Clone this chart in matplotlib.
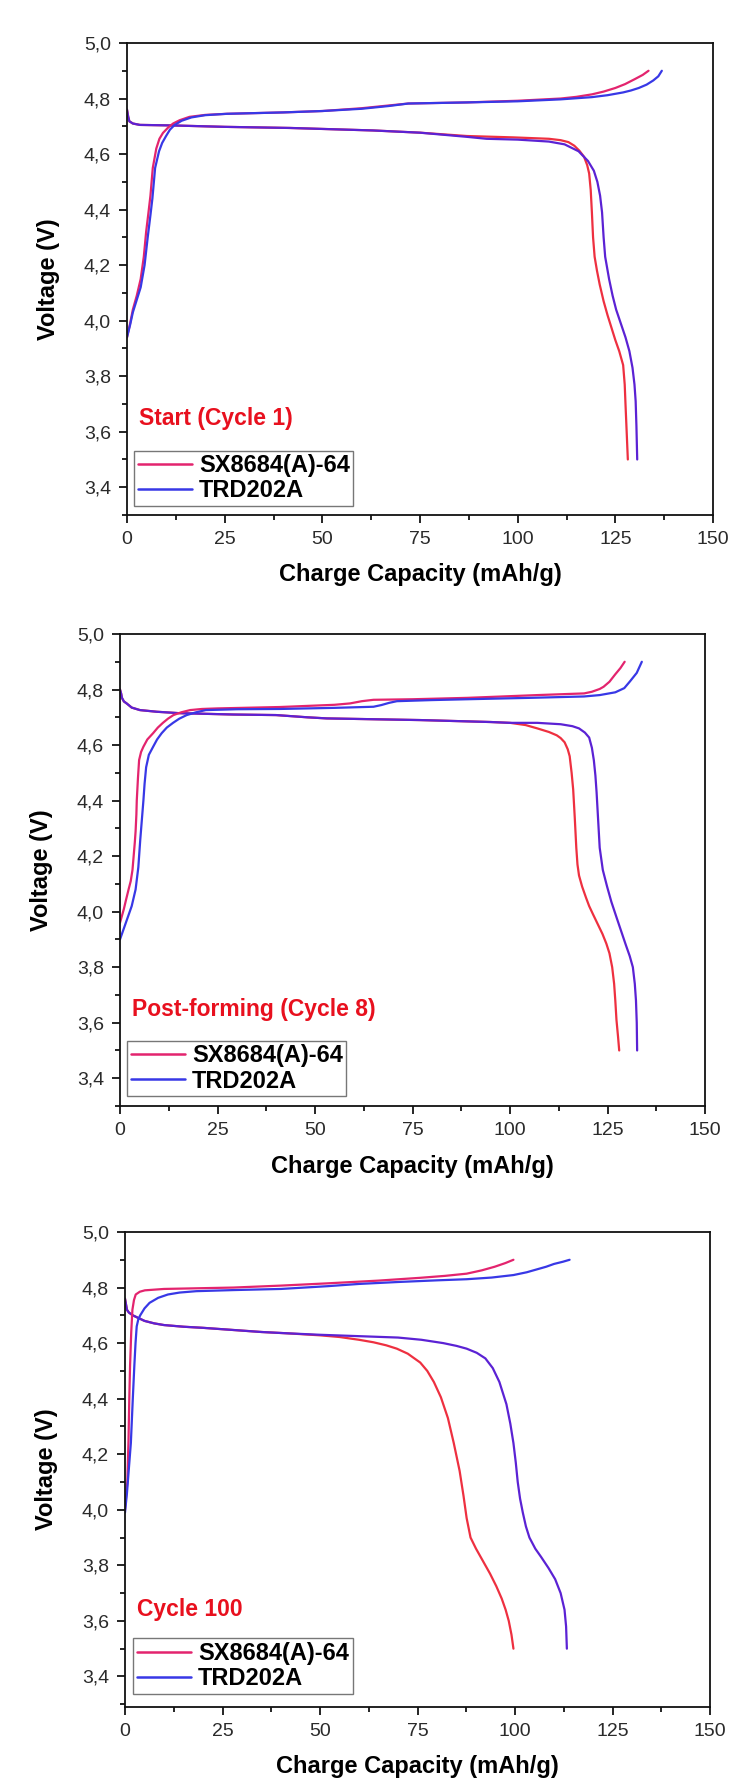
import matplotlib
matplotlib.use("Agg")
import matplotlib.pyplot as plt
from matplotlib.ticker import MultipleLocator, FuncFormatter

plt.rcParams['font.family'] = ['Liberation Sans', 'DejaVu Sans']

# ---------------- data ----------------
panel_titles = ["Start (Cycle 1)", "Post-forming (Cycle 8)", "Cycle 100"]
series_names = ["SX8684(A)-64", "TRD202A"]
x_ticks = [0, 25, 50, 75, 100, 125, 150]
y_ticks = [3.4, 3.6, 3.8, 4.0, 4.2, 4.4, 4.6, 4.8, 5.0]

# Panel 1 (Cycle 1)
p1_sx_chg_x = [0, 0.8, 1.5, 2.5, 3.5, 4.3, 4.9, 5.5, 6.0, 6.6, 7.5, 8.3, 9.2, 10.5, 11.8, 13.5, 16, 20, 25.6, 40, 50, 60, 67, 72, 87, 100, 111, 115, 119, 122, 125, 127.5, 130, 132, 133.5]
p1_sx_chg_v = [3.94, 3.99, 4.04, 4.09, 4.15, 4.23, 4.32, 4.39, 4.45, 4.55, 4.62, 4.655, 4.676, 4.695, 4.71, 4.722, 4.734, 4.741, 4.745, 4.75, 4.755, 4.765, 4.775, 4.782, 4.786, 4.792, 4.80, 4.806, 4.815, 4.825, 4.838, 4.852, 4.87, 4.885, 4.90]
p1_trd_chg_x = [0, 0.8, 1.5, 2.5, 3.5, 4.5, 5.3, 6.0, 6.5, 7.2, 8.2, 9.0, 10, 11, 12.2, 14, 16.5, 20, 25.6, 40, 50, 60, 67, 72, 87, 100, 111, 119, 123, 127, 129, 131, 133, 134.7, 136, 136.9]
p1_trd_chg_v = [3.94, 3.985, 4.03, 4.075, 4.12, 4.20, 4.30, 4.38, 4.44, 4.55, 4.61, 4.64, 4.665, 4.688, 4.705, 4.72, 4.732, 4.74, 4.745, 4.75, 4.755, 4.763, 4.773, 4.782, 4.786, 4.79, 4.797, 4.805, 4.812, 4.822, 4.829, 4.838, 4.85, 4.865, 4.88, 4.90]
p1_sx_dis_x = [0, 0.3, 0.6, 1.5, 3.3, 11.8, 25, 41.7, 63, 75, 87, 99, 108, 111, 113, 114.5, 115.8, 117, 117.8, 118.3, 118.7, 119, 119.3, 119.7, 120.3, 121, 122, 123, 124, 125, 126, 127, 127.4, 127.6, 127.9, 128.2]
p1_sx_dis_v = [4.76, 4.735, 4.718, 4.71, 4.705, 4.703, 4.698, 4.694, 4.685, 4.677, 4.665, 4.66, 4.655, 4.65, 4.643, 4.63, 4.612, 4.59, 4.56, 4.53, 4.47, 4.39, 4.30, 4.23, 4.18, 4.13, 4.07, 4.02, 3.975, 3.93, 3.89, 3.84, 3.77, 3.70, 3.60, 3.50]
p1_trd_dis_x = [0, 0.3, 0.6, 1.5, 3.3, 11.8, 25, 41.7, 63, 75, 87, 92, 100, 108, 112, 115.6, 118, 119.5, 120.4, 121.1, 121.6, 122, 122.4, 123.4, 124.3, 125.2, 126.4, 127.6, 128.6, 129.4, 129.9, 130.2, 130.4, 130.6]
p1_trd_dis_v = [4.76, 4.735, 4.718, 4.71, 4.705, 4.703, 4.698, 4.694, 4.685, 4.677, 4.662, 4.655, 4.652, 4.645, 4.635, 4.61, 4.575, 4.54, 4.50, 4.45, 4.39, 4.30, 4.23, 4.15, 4.09, 4.04, 3.99, 3.94, 3.89, 3.83, 3.77, 3.71, 3.62, 3.50]

# Panel 2 (Cycle 8)
p2_sx_chg_x = [0, 1, 1.5, 2.2, 2.75, 3.2, 3.5, 3.8, 4.0, 4.2, 4.3, 4.6, 4.9, 5.4, 6.0, 7, 8.5, 9.7, 11, 12.3, 13.7, 15.7, 18, 21, 25, 41, 55, 59, 62, 65, 75, 89, 107, 119, 121, 123, 124, 125.5, 127, 128.3, 129.4]
p2_sx_chg_v = [3.96, 4.01, 4.04, 4.08, 4.11, 4.15, 4.20, 4.25, 4.29, 4.35, 4.40, 4.48, 4.546, 4.575, 4.594, 4.62, 4.643, 4.663, 4.68, 4.695, 4.708, 4.718, 4.726, 4.73, 4.732, 4.737, 4.745, 4.75, 4.758, 4.763, 4.765, 4.77, 4.78, 4.786, 4.792, 4.802, 4.81, 4.828, 4.855, 4.877, 4.90]
p2_trd_chg_x = [0, 1, 2, 3, 4, 4.7, 5.2, 5.6, 6.0, 6.3, 6.7, 7.4, 8.5, 9.5, 10.7, 12, 13.6, 15.2, 17.1, 19.5, 22, 30, 41, 55, 65, 67, 69, 71, 80, 89, 105, 119, 123, 127, 129.3, 130.8, 132.5, 133.8]
p2_trd_chg_v = [3.90, 3.94, 3.98, 4.02, 4.08, 4.16, 4.26, 4.33, 4.40, 4.46, 4.52, 4.565, 4.594, 4.62, 4.643, 4.663, 4.68, 4.695, 4.708, 4.718, 4.726, 4.729, 4.73, 4.734, 4.738, 4.744, 4.752, 4.758, 4.762, 4.765, 4.77, 4.775, 4.78, 4.79, 4.805, 4.83, 4.86, 4.90]
p2_sx_dis_x = [0, 0.3, 0.5, 1, 1.7, 3, 5.1, 9.4, 15, 29, 40, 48, 53, 77, 95, 100, 104, 107, 110, 112, 113, 114, 114.8, 115.3, 115.8, 116.2, 116.6, 117, 117.3, 117.7, 118.5, 119.5, 120.3, 121.3, 122.5, 123.7, 124.7, 125.5, 126.2, 126.7, 127.0, 127.3, 127.7, 128]
p2_sx_dis_v = [4.80, 4.785, 4.77, 4.757, 4.75, 4.735, 4.726, 4.72, 4.715, 4.71, 4.708, 4.70, 4.696, 4.69, 4.683, 4.68, 4.672, 4.66, 4.647, 4.635, 4.625, 4.61, 4.585, 4.56, 4.50, 4.44, 4.34, 4.23, 4.17, 4.13, 4.09, 4.05, 4.02, 3.99, 3.955, 3.92, 3.885, 3.85, 3.80, 3.74, 3.68, 3.61, 3.55, 3.50]
p2_trd_dis_x = [0, 0.3, 0.5, 1, 1.7, 3, 5.1, 9.4, 15, 29, 40, 48, 53, 77, 95, 100, 107, 113, 116, 117.7, 119.2, 120.3, 121, 121.5, 121.9, 122.2, 122.6, 123, 123.8, 124.9, 126, 127.3, 128.5, 129.7, 130.7, 131.5, 132, 132.3, 132.5, 132.6]
p2_trd_dis_v = [4.80, 4.785, 4.77, 4.757, 4.75, 4.735, 4.726, 4.72, 4.715, 4.71, 4.708, 4.70, 4.696, 4.69, 4.683, 4.68, 4.68, 4.675, 4.668, 4.66, 4.645, 4.627, 4.59, 4.545, 4.49, 4.43, 4.33, 4.23, 4.15, 4.09, 4.035, 3.98, 3.93, 3.88, 3.84, 3.80, 3.74, 3.68, 3.60, 3.50]

# Panel 3 (Cycle 100)
p3_sx_chg_x = [0, 0.3, 0.6, 0.9, 1.1, 1.3, 1.6, 1.9, 2.3, 2.75, 3.8, 5.1, 10, 27.8, 40, 51.7, 65, 75.6, 82, 87.6, 91.5, 94.8, 97.5, 99.6]
p3_sx_chg_v = [4.00, 4.05, 4.10, 4.25, 4.40, 4.52, 4.64, 4.72, 4.755, 4.775, 4.785, 4.79, 4.795, 4.80, 4.807, 4.815, 4.825, 4.835, 4.842, 4.85, 4.862, 4.875, 4.888, 4.90]
p3_trd_chg_x = [0, 0.5, 1.0, 1.5, 2.0, 2.4, 2.7, 3.0, 3.4, 3.9, 5, 6.3, 8.5, 11, 14, 18.3, 28, 40, 52, 60, 70, 80, 87.6, 94, 99.6, 103, 105.5, 108, 110, 112.3, 114]
p3_trd_chg_v = [3.99, 4.06, 4.15, 4.24, 4.40, 4.52, 4.60, 4.66, 4.685, 4.70, 4.725, 4.745, 4.763, 4.775, 4.782, 4.787, 4.791, 4.795, 4.805, 4.813, 4.82, 4.826, 4.83, 4.836, 4.845, 4.855, 4.865, 4.875, 4.885, 4.893, 4.90]
p3_sx_dis_x = [0, 0.25, 0.5, 1, 2, 3.5, 5, 7.5, 10, 15, 20, 27, 35, 42, 50, 55, 60, 63.7, 67, 69.7, 72.5, 75.7, 77.5, 79.2, 81, 82.8, 84.3, 85.8, 86.8, 87.6, 88.6, 90, 91.8, 93.6, 95.2, 96.6, 97.6, 98.4, 99.1, 99.6]
p3_sx_dis_v = [4.76, 4.74, 4.72, 4.71, 4.70, 4.69, 4.68, 4.671, 4.665, 4.659, 4.655, 4.648, 4.64, 4.635, 4.628, 4.622, 4.612, 4.603, 4.592, 4.58, 4.562, 4.53, 4.50, 4.46, 4.405, 4.33, 4.24, 4.14, 4.05, 3.97, 3.90, 3.86, 3.815, 3.77, 3.725, 3.68, 3.64, 3.60, 3.55, 3.50]
p3_trd_dis_x = [0, 0.25, 0.5, 1, 2, 3.5, 5, 7.5, 10, 15, 20, 27, 35, 42, 50, 60, 70, 76, 81.6, 85, 87.6, 90.2, 92.4, 94.3, 96, 97.8, 98.8, 99.6, 100.2, 100.7, 101.3, 102, 102.8, 103.7, 105.2, 106.7, 108.6, 110.3, 111.7, 112.7, 113.1, 113.3]
p3_trd_dis_v = [4.76, 4.74, 4.72, 4.71, 4.70, 4.69, 4.68, 4.671, 4.665, 4.659, 4.655, 4.648, 4.64, 4.635, 4.63, 4.625, 4.62, 4.612, 4.60, 4.59, 4.58, 4.565, 4.545, 4.51, 4.46, 4.38, 4.31, 4.24, 4.17, 4.10, 4.04, 3.99, 3.94, 3.90, 3.86, 3.83, 3.79, 3.75, 3.70, 3.64, 3.58, 3.50]

panels = [
    (p1_sx_chg_x, p1_sx_chg_v, p1_trd_chg_x, p1_trd_chg_v, p1_sx_dis_x, p1_sx_dis_v, p1_trd_dis_x, p1_trd_dis_v),
    (p2_sx_chg_x, p2_sx_chg_v, p2_trd_chg_x, p2_trd_chg_v, p2_sx_dis_x, p2_sx_dis_v, p2_trd_dis_x, p2_trd_dis_v),
    (p3_sx_chg_x, p3_sx_chg_v, p3_trd_chg_x, p3_trd_chg_v, p3_sx_dis_x, p3_sx_dis_v, p3_trd_dis_x, p3_trd_dis_v),
]

# ---------------- styling / layout ----------------
W, H = 732, 1779
fig = plt.figure(figsize=(W / 100, H / 100), dpi=100)

# axes boxes in pixels: left, right, top, bottom
boxes = [(127, 713, 43, 515), (120, 705, 634, 1106), (125, 710, 1232, 1707)]
ylims = [(3.3, 5.0), (3.3, 5.0), (3.29, 5.0)]
legend_anchor = [(0.012, 0.019), (0.012, 0.021), (0.014, 0.028)]

c_sx_chg = "#e3246e"
c_sx_dis = "#ee3040"
c_trd_chg = "#3838e6"
c_trd_dis = "#5b22d4"

def comma_fmt(v, pos):
    return ("%.1f" % v).replace(".", ",")

for i, (box, data) in enumerate(zip(boxes, panels)):
    l, r, t, b = box
    ax = fig.add_axes([l / W, 1 - b / H, (r - l) / W, (b - t) / H])
    sxcx, sxcv, trcx, trcv, sxdx, sxdv, trdx, trdv = data
    kw = dict(lw=1.6, solid_joinstyle='round', solid_capstyle='round')
    ax.plot(sxdx, sxdv, color=c_sx_dis, **kw)
    ax.plot(trdx, trdv, color=c_trd_dis, **kw)
    h1, = ax.plot(sxcx, sxcv, color=c_sx_chg, label=series_names[0], **kw)
    h2, = ax.plot(trcx, trcv, color=c_trd_chg, label=series_names[1], **kw)

    ax.set_xlim(0, 150)
    ax.set_ylim(*ylims[i])
    ax.set_xticks(x_ticks)
    ax.set_yticks(y_ticks)
    ax.xaxis.set_minor_locator(MultipleLocator(12.5))
    ax.yaxis.set_minor_locator(MultipleLocator(0.1))
    ax.yaxis.set_major_formatter(FuncFormatter(comma_fmt))
    ax.tick_params(which='major', direction='out', length=6, width=1.2,
                   labelsize=14, labelcolor='#2a2a2a', pad=5.5)
    ax.tick_params(which='minor', direction='out', length=3.5, width=1.2)
    for s in ax.spines.values():
        s.set_linewidth(1.3)
        s.set_color('#111111')

    ax.set_xlabel("Charge Capacity (mAh/g)", fontsize=17, fontweight='bold', va='center')
    ax.xaxis.set_label_coords(0.5, -60 / (b - t))
    ax.set_ylabel("Voltage (V)", fontsize=17, fontweight='bold', va='center')
    ax.yaxis.set_label_coords(-78 / (r - l), 0.5)

    ax.text(0.02, 0.205, panel_titles[i], transform=ax.transAxes, color='#e8101e',
            fontsize=16.5, fontweight='bold', ha='left', va='center')

    leg = ax.legend(handles=[h1, h2], loc='lower left', bbox_to_anchor=legend_anchor[i],
                    borderaxespad=0, frameon=True, fancybox=False, edgecolor='#555555',
                    prop={'size': 17, 'weight': 'bold'}, handlelength=2.3,
                    handletextpad=0.3, labelspacing=0.1, borderpad=0.15)
    leg.get_frame().set_linewidth(1.0)
    for lh in leg.get_lines():
        lh.set_linewidth(1.8)

fig.savefig("out.png", dpi=100, facecolor='white')
